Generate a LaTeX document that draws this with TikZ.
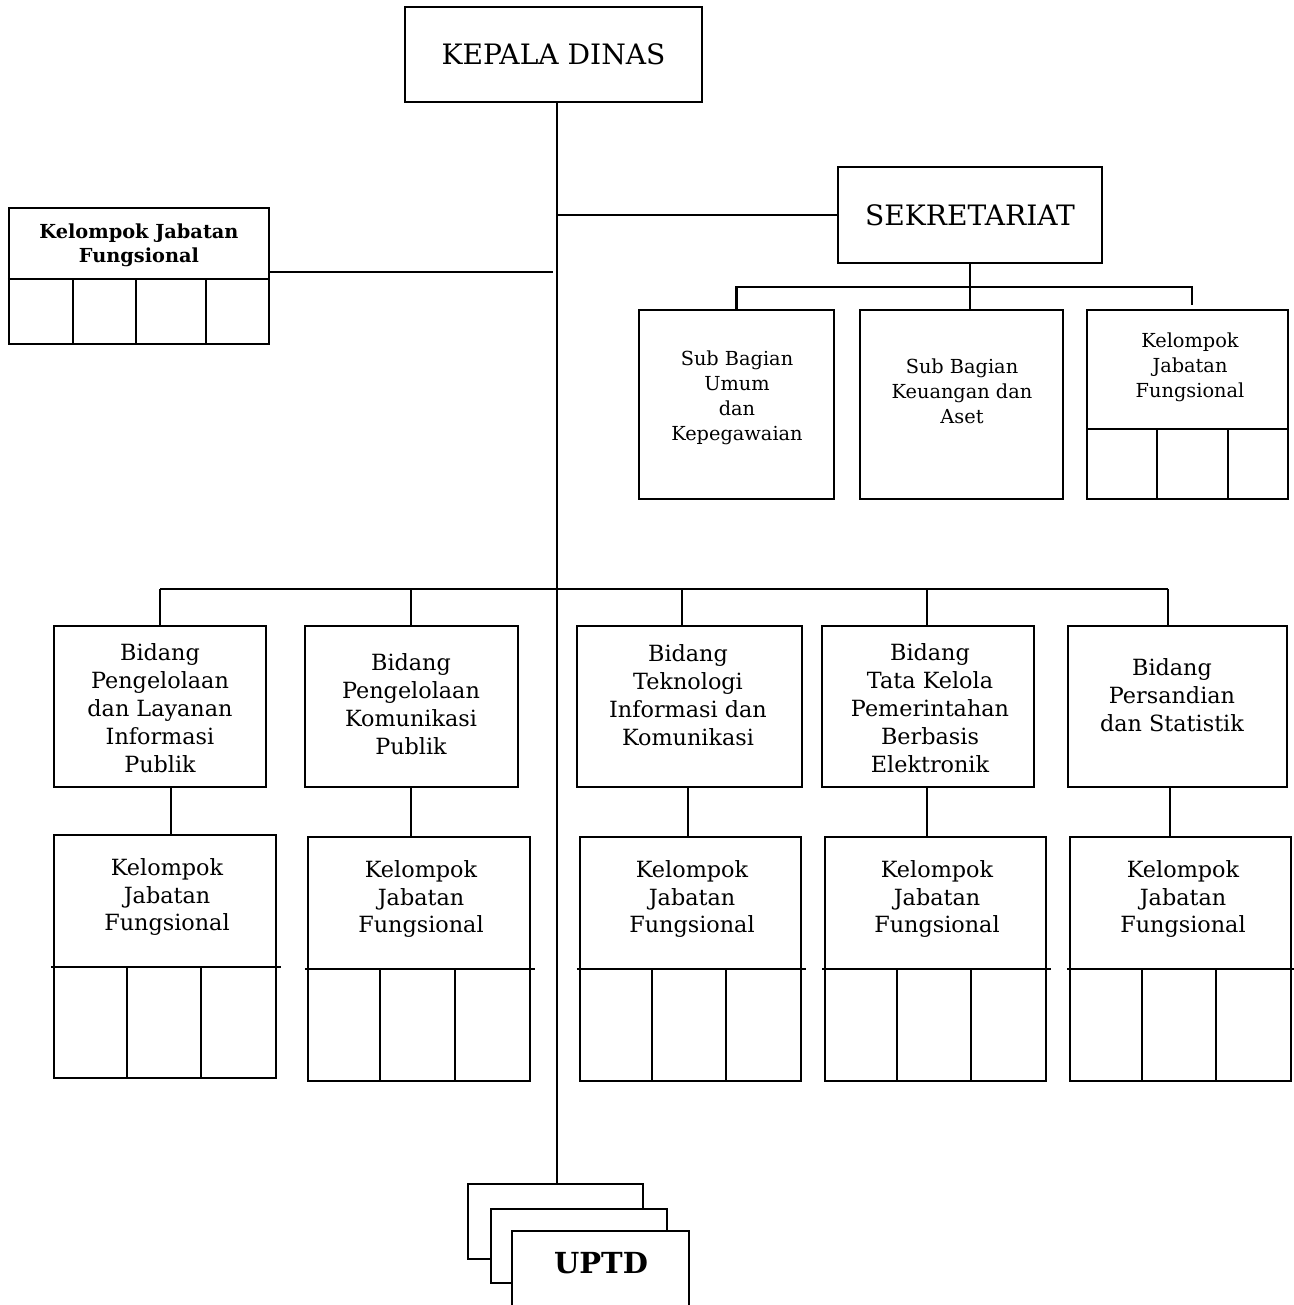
\documentclass[tikz,border=0pt]{standalone}
\usepackage{fontspec}
\setmainfont{DejaVu Serif}
\begin{document}
\begin{tikzpicture}[x=0.02cm,y=-0.02cm,line width=1.15pt,
  box/.style 2 args={draw, fill=white, line width=1.15pt, inner sep=0pt,
    minimum width=#1*0.02cm, minimum height=#2*0.02cm},
  txt/.style={align=center, inner sep=0pt},
  head/.style={font=\fontsize{16}{19}\selectfont},
  bid/.style={txt, font=\fontsize{12.7}{15.9}\selectfont},
  sub/.style={txt, font=\fontsize{11}{14.2}\selectfont},
  kjfbold/.style={txt, font=\bfseries\fontsize{11}{13.6}\selectfont},
  uptd/.style={txt, font=\bfseries\fontsize{16.5}{19}\selectfont}]
\useasboundingbox (0,0) rectangle (1294,1305);
\clip (0,0) rectangle (1294,1305);

% top level
\node[box={297}{95}, head] (kd) at (553.5,54.5) {KEPALA DINAS};
\node[box={264}{96}, head] (sek) at (970,215) {SEKRETARIAT};
\coordinate (sp) at (557,0);

% stacked UPTD boxes
\node[box={175}{75}] (uA) at (555.5,1221.5) {};
\node[box={176}{74}] (uB) at (579,1246) {};
\node[box={175}{100}, draw=none] (uC) at (600.5,1282) {};
\draw (uC.south west) -- (uC.north west) -- (uC.north east) -- (uC.south east);
\node[uptd] (uCt) at (601,1263) {UPTD};

% spine
\draw (kd.south -| sp) -- (uA.north -| sp);
\draw (sp |- sek.west) -- (sek.west);

% left functional group
\node[box={260}{136}] (kjfL) at (139,276) {};
\draw (kjfL.west |- 0,279) -- (kjfL.east |- 0,279);
\foreach \v in {73,136,206} \draw (\v,279) -- (\v,0 |- kjfL.south);
\node[kjfbold] (kjfLt) at (139,245) {Kelompok Jabatan\\Fungsional};
\coordinate (lEnd) at (553,272);
\draw (kjfL.east |- lEnd) -- (lEnd);

% secretariat sub units
\node[box={195}{189}] (sb1) at (736.5,404.5) {};
\node[box={203}{189}] (sb2) at (961.5,404.5) {};
\node[box={201}{189}] (sb3) at (1187.5,404.5) {};
\draw (sb3.west |- 0,429) -- (sb3.east |- 0,429);
\foreach \v in {1157,1228} \draw (\v,429) -- (\v,0 |- sb3.south);
\node[sub] (sb1t) at (737,398) {Sub Bagian\\Umum\\dan\\Kepegawaian};
\node[sub] (sb2t) at (962,391) {Sub Bagian\\Keuangan dan\\Aset};
\node[sub] (sb3t) at (1190,367) {Kelompok\\Jabatan\\Fungsional};
\coordinate (sbar) at (0,287);
\coordinate (r3) at (1192,305);
\draw (sek.south) -- (sek.south |- sb2.north);
\draw (sb1.north) -- (sb1.north |- sbar) -- (r3 |- sbar) -- (r3);

% divisions
\node[box={212}{161}] (b1) at (160,706.5) {};
\node[box={213}{161}] (b2) at (411.5,706.5) {};
\node[box={225}{161}] (b3) at (689.5,706.5) {};
\node[box={212}{161}] (b4) at (928,706.5) {};
\node[box={219}{161}] (b5) at (1177.5,706.5) {};
\node[bid] (b1t) at (160,708.5) {Bidang\\Pengelolaan\\dan Layanan\\Informasi\\Publik};
\node[bid] (b2t) at (411,704) {Bidang\\Pengelolaan\\Komunikasi\\Publik};
\node[bid] (b3t) at (688,695.5) {Bidang\\Teknologi\\Informasi dan\\Komunikasi};
\node[bid] (b4t) at (930,708.5) {Bidang\\Tata Kelola\\Pemerintahan\\Berbasis\\Elektronik};
\node[bid] (b5t) at (1172,695.5) {Bidang\\Persandian\\dan Statistik};
\coordinate (bar) at (0,589);
\draw (160,0 |- bar) -- (1168,0 |- bar);
\foreach \b/\x in {b1/160,b2/411,b3/682,b4/927,b5/1168}
  \draw (\x,0 |- bar) -- (\x,0 |- \b.north);

% functional groups under each division
\node[box={222}{243}] (k1) at (165,956.5) {};
\node[box={222}{244}] (k2) at (419,959) {};
\node[box={221}{244}] (k3) at (690.5,959) {};
\node[box={221}{244}] (k4) at (935.5,959) {};
\node[box={221}{244}] (k5) at (1180.5,959) {};
\foreach \k/\d/\va/\vb in {k1/967/127/201, k2/969/380/455, k3/969/652/726,
                          k4/969/897/971, k5/969/1142/1216} {
  \draw ([xshift=-0.04cm]\k.west |- 0,\d) -- ([xshift=0.08cm]\k.east |- 0,\d);
  \draw (\va,\d) -- (\va,0 |- \k.south);
  \draw (\vb,\d) -- (\vb,0 |- \k.south);
}
\node[bid] (k1t) at (167,897) {Kelompok\\Jabatan\\Fungsional};
\node[bid] (k2t) at (421,899) {Kelompok\\Jabatan\\Fungsional};
\node[bid] (k3t) at (692,899) {Kelompok\\Jabatan\\Fungsional};
\node[bid] (k4t) at (937,899) {Kelompok\\Jabatan\\Fungsional};
\node[bid] (k5t) at (1183,899) {Kelompok\\Jabatan\\Fungsional};
\foreach \b/\k/\x in {b1/k1/171,b2/k2/411,b3/k3/688,b4/k4/927,b5/k5/1170}
  \draw (\x,0 |- \b.south) -- (\x,0 |- \k.north);
\end{tikzpicture}
\end{document}
